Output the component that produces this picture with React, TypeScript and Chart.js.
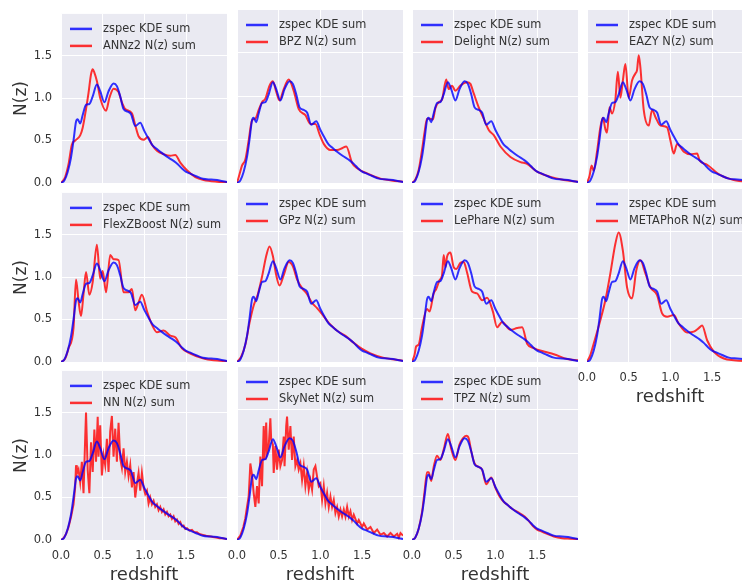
import React, { useEffect, useRef } from 'react';
import { Chart, registerables } from 'chart.js';

Chart.register(...registerables);

// ---------- tick labels ----------
const X_TICKS = [0, 0.5, 1.0, 1.5];
const Y_TICKS = [0, 0.5, 1.0, 1.5];
const AXIS_MAX = 1.99;

// ---------- reference curve (same in every panel) ----------
const ZSPEC_X = [0, 0.04, 0.08, 0.12, 0.15, 0.18, 0.20, 0.23, 0.26, 0.30, 0.34, 0.38, 0.43, 0.47, 0.52, 0.57, 0.63, 0.67, 0.71, 0.75, 0.80, 0.84, 0.89, 0.95, 1.00, 1.05, 1.10, 1.15, 1.20, 1.27, 1.35, 1.40, 1.45, 1.50, 1.55, 1.62, 1.70, 1.80, 1.90, 1.99];
const ZSPEC_Y = [0, 0.03, 0.13, 0.30, 0.50, 0.72, 0.75, 0.70, 0.80, 0.92, 0.93, 1.02, 1.16, 1.08, 0.95, 1.08, 1.17, 1.14, 1.02, 0.87, 0.84, 0.81, 0.67, 0.71, 0.61, 0.52, 0.44, 0.40, 0.36, 0.31, 0.26, 0.22, 0.17, 0.13, 0.11, 0.08, 0.05, 0.04, 0.03, 0.01];

// ---------- photo-z method curves ----------
const ANNZ2_X = [0, 0.05, 0.09, 0.13, 0.17, 0.23, 0.26, 0.30, 0.33, 0.36, 0.38, 0.40, 0.43, 0.47, 0.54, 0.58, 0.63, 0.69, 0.73, 0.77, 0.85, 0.89, 0.93, 0.99, 1.04, 1.09, 1.15, 1.23, 1.31, 1.37, 1.43, 1.51, 1.61, 1.71, 1.87, 1.99];
const ANNZ2_Y = [0, 0.07, 0.22, 0.45, 0.50, 0.56, 0.65, 0.87, 1.06, 1.28, 1.34, 1.30, 1.20, 1.00, 0.85, 1.00, 1.11, 1.07, 0.95, 0.87, 0.82, 0.68, 0.55, 0.51, 0.54, 0.45, 0.38, 0.34, 0.32, 0.33, 0.24, 0.15, 0.07, 0.035, 0.015, 0.01];

const BPZ_X = [0, 0.03, 0.06, 0.10, 0.14, 0.18, 0.22, 0.26, 0.30, 0.34, 0.39, 0.43, 0.47, 0.51, 0.56, 0.62, 0.68, 0.74, 0.82, 0.88, 0.94, 0.99, 1.04, 1.12, 1.20, 1.26, 1.31, 1.38, 1.44, 1.56, 1.72, 1.85, 1.99];
const BPZ_Y = [0, 0.10, 0.20, 0.27, 0.49, 0.72, 0.74, 0.84, 0.93, 0.97, 1.12, 1.17, 1.05, 0.95, 1.08, 1.19, 1.06, 0.85, 0.78, 0.68, 0.68, 0.56, 0.45, 0.38, 0.38, 0.40, 0.42, 0.23, 0.17, 0.11, 0.05, 0.03, 0.015];

const DELIGHT_X = [0, 0.04, 0.08, 0.12, 0.15, 0.18, 0.22, 0.25, 0.28, 0.32, 0.36, 0.41, 0.44, 0.48, 0.52, 0.58, 0.66, 0.70, 0.74, 0.80, 0.86, 0.92, 0.98, 1.06, 1.18, 1.30, 1.38, 1.50, 1.66, 1.82, 1.99];
const DELIGHT_Y = [0, 0.04, 0.15, 0.38, 0.58, 0.74, 0.74, 0.73, 0.86, 0.93, 0.96, 1.19, 1.08, 1.12, 1.06, 1.12, 1.16, 1.14, 1.03, 0.87, 0.74, 0.61, 0.55, 0.42, 0.30, 0.24, 0.22, 0.13, 0.07, 0.035, 0.015];

const EAZY_X = [0, 0.03, 0.055, 0.08, 0.12, 0.16, 0.19, 0.22, 0.24, 0.27, 0.30, 0.34, 0.37, 0.40, 0.43, 0.46, 0.50, 0.54, 0.58, 0.60, 0.62, 0.64, 0.68, 0.74, 0.78, 0.82, 0.88, 0.96, 1.00, 1.04, 1.08, 1.16, 1.24, 1.32, 1.35, 1.44, 1.60, 1.76, 1.99];
const EAZY_Y = [0, 0.08, 0.20, 0.14, 0.36, 0.64, 0.75, 0.62, 0.58, 0.87, 0.80, 0.96, 1.28, 0.98, 1.18, 1.37, 0.98, 1.18, 1.26, 1.30, 1.47, 1.33, 0.84, 0.66, 0.84, 0.76, 0.66, 0.64, 0.49, 0.34, 0.45, 0.36, 0.33, 0.34, 0.26, 0.21, 0.09, 0.035, 0.01];

const FLEXZ_X = [0, 0.05, 0.09, 0.15, 0.18, 0.21, 0.24, 0.27, 0.30, 0.34, 0.38, 0.43, 0.47, 0.50, 0.54, 0.59, 0.63, 0.69, 0.75, 0.81, 0.85, 0.89, 0.93, 0.97, 1.03, 1.09, 1.15, 1.23, 1.31, 1.37, 1.45, 1.55, 1.71, 1.83, 1.99];
const FLEXZ_Y = [0, 0.04, 0.16, 0.40, 0.97, 0.72, 0.54, 0.80, 1.06, 0.79, 0.94, 1.38, 0.98, 1.07, 0.82, 1.26, 1.21, 1.20, 0.82, 0.82, 0.86, 0.61, 0.70, 0.79, 0.60, 0.44, 0.35, 0.37, 0.31, 0.29, 0.16, 0.10, 0.04, 0.02, 0.01];

const GPZ_X = [0, 0.05, 0.10, 0.15, 0.20, 0.25, 0.30, 0.35, 0.39, 0.43, 0.47, 0.51, 0.56, 0.62, 0.67, 0.72, 0.78, 0.84, 0.90, 0.96, 1.02, 1.10, 1.20, 1.30, 1.40, 1.50, 1.60, 1.75, 1.99];
const GPZ_Y = [0, 0.06, 0.20, 0.45, 0.65, 0.78, 0.98, 1.22, 1.33, 1.22, 1.00, 0.88, 1.00, 1.15, 1.10, 0.95, 0.85, 0.78, 0.68, 0.62, 0.55, 0.45, 0.36, 0.30, 0.22, 0.15, 0.10, 0.05, 0.015];

const LEPHARE_X = [0, 0.03, 0.05, 0.08, 0.12, 0.18, 0.21, 0.26, 0.29, 0.33, 0.36, 0.38, 0.40, 0.42, 0.46, 0.50, 0.53, 0.58, 0.62, 0.66, 0.72, 0.78, 0.84, 0.90, 0.97, 1.02, 1.08, 1.18, 1.26, 1.32, 1.38, 1.46, 1.58, 1.70, 1.86, 1.99];
const LEPHARE_Y = [0, 0.08, 0.18, 0.20, 0.40, 0.61, 0.58, 0.79, 0.84, 0.94, 1.00, 1.23, 1.09, 1.21, 1.26, 1.09, 1.07, 1.14, 1.15, 1.03, 0.81, 0.79, 0.71, 0.74, 0.58, 0.40, 0.46, 0.37, 0.39, 0.40, 0.21, 0.16, 0.12, 0.09, 0.035, 0.02];

const METAPHOR_X = [0, 0.04, 0.08, 0.16, 0.22, 0.28, 0.34, 0.38, 0.43, 0.48, 0.54, 0.59, 0.64, 0.70, 0.76, 0.84, 0.90, 0.96, 1.04, 1.10, 1.20, 1.28, 1.34, 1.38, 1.44, 1.52, 1.64, 1.76, 1.99];
const METAPHOR_Y = [0, 0.08, 0.21, 0.48, 0.71, 1.02, 1.36, 1.49, 1.28, 0.86, 0.73, 1.05, 1.17, 1.02, 0.86, 0.77, 0.56, 0.52, 0.54, 0.44, 0.34, 0.35, 0.39, 0.42, 0.25, 0.12, 0.04, 0.02, 0.01];

const NN_X = [0, 0.03, 0.06, 0.09, 0.12, 0.15, 0.17, 0.18, 0.19, 0.21, 0.23, 0.25, 0.27, 0.29, 0.30, 0.32, 0.34, 0.36, 0.38, 0.40, 0.42, 0.44, 0.45, 0.47, 0.49, 0.51, 0.53, 0.55, 0.57, 0.59, 0.61, 0.63, 0.65, 0.67, 0.69, 0.71, 0.73, 0.75, 0.77, 0.79, 0.81, 0.83, 0.85, 0.87, 0.89, 0.91, 0.93, 0.95, 0.97, 0.99, 1.01, 1.03, 1.05, 1.07, 1.09, 1.11, 1.13, 1.15, 1.17, 1.19, 1.21, 1.23, 1.25, 1.27, 1.29, 1.31, 1.33, 1.35, 1.37, 1.39, 1.41, 1.43, 1.45, 1.47, 1.49, 1.51, 1.54, 1.57, 1.60, 1.63, 1.66, 1.70, 1.74, 1.78, 1.82, 1.86, 1.90, 1.94, 1.99];
const NN_Y = [0, 0.02, 0.07, 0.15, 0.27, 0.42, 0.62, 0.88, 0.78, 0.83, 0.68, 0.92, 0.55, 1.20, 1.50, 0.82, 0.55, 1.15, 0.80, 1.30, 0.92, 1.45, 0.98, 1.35, 0.76, 1.00, 0.88, 1.19, 0.80, 1.28, 1.46, 0.98, 1.31, 0.92, 1.38, 0.96, 0.85, 1.08, 0.80, 0.92, 0.75, 0.88, 0.62, 0.80, 0.50, 0.66, 0.79, 0.58, 0.79, 0.62, 0.54, 0.58, 0.43, 0.50, 0.42, 0.46, 0.39, 0.42, 0.35, 0.39, 0.33, 0.36, 0.30, 0.33, 0.28, 0.30, 0.25, 0.28, 0.22, 0.24, 0.19, 0.21, 0.16, 0.17, 0.13, 0.14, 0.11, 0.12, 0.09, 0.09, 0.07, 0.06, 0.05, 0.045, 0.035, 0.03, 0.02, 0.02, 0.01];

const SKYNET_X = [0, 0.04, 0.076, 0.10, 0.12, 0.14, 0.16, 0.18, 0.20, 0.22, 0.24, 0.26, 0.28, 0.30, 0.32, 0.33, 0.35, 0.36, 0.38, 0.40, 0.41, 0.43, 0.44, 0.46, 0.48, 0.50, 0.52, 0.54, 0.56, 0.57, 0.59, 0.60, 0.62, 0.64, 0.66, 0.68, 0.70, 0.72, 0.74, 0.76, 0.78, 0.80, 0.82, 0.84, 0.86, 0.88, 0.90, 0.92, 0.94, 0.96, 0.98, 1.00, 1.02, 1.04, 1.06, 1.08, 1.10, 1.12, 1.14, 1.16, 1.18, 1.20, 1.22, 1.24, 1.26, 1.28, 1.30, 1.32, 1.34, 1.36, 1.38, 1.40, 1.44, 1.46, 1.50, 1.52, 1.56, 1.60, 1.64, 1.68, 1.72, 1.76, 1.80, 1.84, 1.88, 1.92, 1.94, 1.96, 1.99];
const SKYNET_Y = [0, 0.05, 0.15, 0.25, 0.38, 0.50, 0.88, 0.75, 0.54, 0.38, 0.62, 0.42, 0.96, 0.62, 1.31, 0.92, 1.35, 1.00, 1.08, 1.40, 1.15, 1.10, 0.77, 1.08, 0.81, 1.04, 0.85, 0.92, 1.19, 0.85, 1.31, 1.42, 1.04, 1.31, 0.92, 1.19, 0.85, 0.92, 0.81, 0.88, 0.69, 0.85, 0.62, 0.77, 0.58, 0.69, 0.58, 0.81, 0.85, 0.73, 0.62, 0.65, 0.46, 0.62, 0.42, 0.54, 0.38, 0.50, 0.38, 0.46, 0.31, 0.38, 0.27, 0.35, 0.27, 0.35, 0.27, 0.38, 0.27, 0.33, 0.23, 0.29, 0.19, 0.23, 0.15, 0.19, 0.12, 0.15, 0.08, 0.12, 0.06, 0.08, 0.04, 0.08, 0.04, 0.07, 0.03, 0.08, 0.05];

const TPZ_X = [0, 0.04, 0.08, 0.12, 0.15, 0.18, 0.20, 0.23, 0.26, 0.30, 0.34, 0.38, 0.43, 0.47, 0.52, 0.57, 0.61, 0.65, 0.68, 0.71, 0.75, 0.80, 0.84, 0.89, 0.95, 1.00, 1.05, 1.10, 1.15, 1.20, 1.27, 1.35, 1.40, 1.45, 1.50, 1.55, 1.62, 1.70, 1.80, 1.90, 1.99];
const TPZ_Y = [0, 0.03, 0.13, 0.32, 0.55, 0.78, 0.78, 0.68, 0.84, 0.97, 0.92, 1.04, 1.22, 1.05, 0.92, 1.10, 1.17, 1.20, 1.17, 1.02, 0.88, 0.84, 0.81, 0.64, 0.72, 0.60, 0.50, 0.44, 0.40, 0.36, 0.32, 0.27, 0.22, 0.16, 0.12, 0.10, 0.07, 0.04, 0.02, 0.015, 0.01];

const METHOD_NAMES = ['ANNz2', 'BPZ', 'Delight', 'EAZY', 'FlexZBoost', 'GPz', 'LePhare', 'METAPhoR', 'NN', 'SkyNet', 'TPZ'];
const METHOD_XS = [ANNZ2_X, BPZ_X, DELIGHT_X, EAZY_X, FLEXZ_X, GPZ_X, LEPHARE_X, METAPHOR_X, NN_X, SKYNET_X, TPZ_X];
const METHOD_YS = [ANNZ2_Y, BPZ_Y, DELIGHT_Y, EAZY_Y, FLEXZ_Y, GPZ_Y, LEPHARE_Y, METAPHOR_Y, NN_Y, SKYNET_Y, TPZ_Y];
const JAGGED = ['NN', 'SkyNet'];

// ---------- layout ----------
const COL_LEFT = [61, 237, 412, 587];
const ROW_TOP = [10, 189, 367];
const PLOT_W = 166;
const PLOT_H = 173;
const M_LEFT = 60;
const M_TOP = 12;
const M_RIGHT = 12;
const M_BOTTOM = 50;

const FONT = '"DejaVu Sans", "Liberation Sans", sans-serif';
const TEXT = '#333333';
const BLUE = 'rgba(0, 0, 255, 0.8)';
const RED = 'rgba(255, 0, 0, 0.8)';

const bgPlugin = {
  id: 'panelBg',
  beforeDraw(chart: any) {
    const { ctx, chartArea } = chart;
    ctx.save();
    ctx.fillStyle = '#EAEAF2';
    ctx.fillRect(chartArea.left, chartArea.top, chartArea.right - chartArea.left, chartArea.bottom - chartArea.top);
    ctx.restore();
  },
};

const legendPlugin = {
  id: 'panelLegend',
  afterDatasetsDraw(chart: any) {
    const { ctx, chartArea } = chart;
    ctx.save();
    chart.data.datasets.forEach((ds: any, i: number) => {
      const y = chartArea.top + 15 + i * 17;
      ctx.strokeStyle = ds.borderColor;
      ctx.lineWidth = 2.5;
      ctx.beginPath();
      ctx.moveTo(chartArea.left + 9, y);
      ctx.lineTo(chartArea.left + 31, y);
      ctx.stroke();
      ctx.fillStyle = TEXT;
      ctx.font = `11.4px ${FONT}`;
      ctx.textBaseline = 'middle';
      ctx.textAlign = 'left';
      ctx.fillText(ds.label, chartArea.left + 42, y);
    });
    ctx.restore();
  },
};

function toPoints(xs: number[], ys: number[]) {
  return xs.map((x, i) => ({ x, y: ys[i] }));
}

function Panel({ idx }: { idx: number }) {
  const ref = useRef<HTMLCanvasElement>(null);
  const row = Math.floor(idx / 4);
  const col = idx % 4;
  const left = COL_LEFT[col] - M_LEFT;
  const top = ROW_TOP[row] - M_TOP;
  const w = M_LEFT + PLOT_W + M_RIGHT;
  const h = M_TOP + PLOT_H + M_BOTTOM;

  useEffect(() => {
    const name = METHOD_NAMES[idx];
    const showX = row === 2 || idx === 7;
    const showY = col === 0;
    const jag = JAGGED.includes(name);
    const chart = new Chart(ref.current as HTMLCanvasElement, {
      type: 'line',
      data: {
        datasets: [
          {
            label: 'zspec KDE sum',
            data: toPoints(ZSPEC_X, ZSPEC_Y),
            borderColor: BLUE,
            borderWidth: 2,
            pointRadius: 0,
            cubicInterpolationMode: 'monotone',
            fill: false,
          },
          {
            label: `${name} N(z) sum`,
            data: toPoints(METHOD_XS[idx], METHOD_YS[idx]),
            borderColor: RED,
            borderWidth: 2,
            pointRadius: 0,
            tension: 0,
            cubicInterpolationMode: jag ? 'default' : 'monotone',
            fill: false,
          },
        ],
      } as any,
      options: {
        animation: false,
        responsive: false,
        devicePixelRatio: 1,
        events: [],
        layout: { padding: { top: M_TOP, right: M_RIGHT, left: 0, bottom: 0 } },
        plugins: { legend: { display: false }, tooltip: { enabled: false } },
        scales: {
          x: {
            type: 'linear',
            min: 0,
            max: AXIS_MAX,
            afterFit: (s: any) => { s.height = M_BOTTOM; },
            afterBuildTicks: (s: any) => { s.ticks = X_TICKS.map((v) => ({ value: v })); },
            grid: { color: '#ffffff', lineWidth: 1, drawTicks: false },
            border: { display: false },
            ticks: {
              display: showX,
              padding: 9,
              color: TEXT,
              font: { family: FONT, size: 11.5 },
              callback: (v: any) => Number(v).toFixed(1),
            },
            title: {
              display: showX,
              text: 'redshift',
              color: TEXT,
              font: { family: FONT, size: 18, lineHeight: 1.2 },
              padding: { top: 0, bottom: 4 },
            },
          },
          y: {
            type: 'linear',
            min: 0,
            max: AXIS_MAX,
            afterFit: (s: any) => { s.width = M_LEFT; },
            afterBuildTicks: (s: any) => { s.ticks = Y_TICKS.map((v) => ({ value: v })); },
            grid: { color: '#ffffff', lineWidth: 1, drawTicks: false },
            border: { display: false },
            ticks: {
              display: showY,
              padding: 9,
              color: TEXT,
              font: { family: FONT, size: 11.5 },
              callback: (v: any) => Number(v).toFixed(1),
            },
            title: {
              display: showY,
              text: 'N(z)',
              color: TEXT,
              font: { family: FONT, size: 17, lineHeight: 1.2 },
              padding: { top: 10, bottom: 0 },
            },
          },
        },
      } as any,
      plugins: [bgPlugin, legendPlugin],
    });
    return () => chart.destroy();
  }, [idx]);

  return (
    <canvas
      ref={ref}
      width={w}
      height={h}
      style={{ position: 'absolute', left, top, width: w, height: h }}
    />
  );
}

export default function App() {
  return (
    <div
      style={{
        position: 'fixed',
        left: 0,
        top: 0,
        width: 742,
        height: 583,
        overflow: 'hidden',
        background: '#ffffff',
      }}
    >
      {METHOD_NAMES.map((_, i) => (
        <Panel key={i} idx={i} />
      ))}
    </div>
  );
}
